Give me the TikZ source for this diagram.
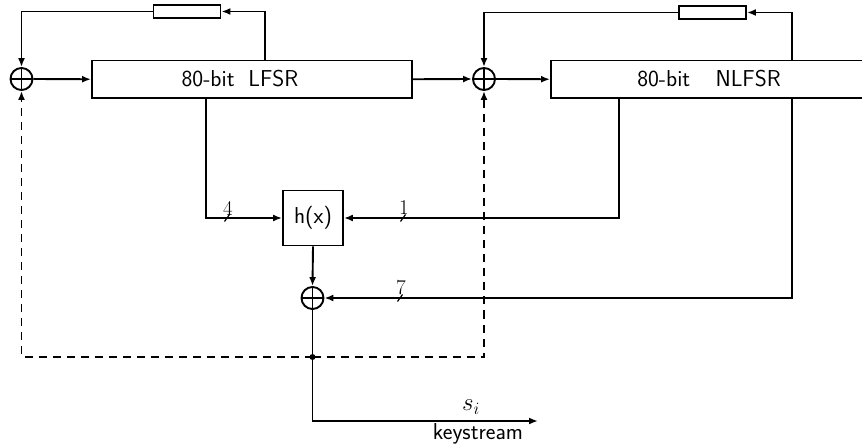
\documentclass[tikz,border=0pt]{standalone}
\usetikzlibrary{arrows.meta}
\begin{document}
\begin{tikzpicture}[x=1pt,y=-1pt,line width=1.9pt,
  arr/.style={-{Latex[length=9pt,width=7pt]}},
  xorgate/.style={circle,draw,line width=1.9pt,minimum size=22pt,inner sep=0pt,
    path picture={\draw[line width=1.9pt] (path picture bounding box.north) -- (path picture bounding box.south)
      (path picture bounding box.west) -- (path picture bounding box.east);}},
  regbox/.style={draw,line width=1.9pt,rectangle,inner sep=0pt},
  tapbox/.style={draw,line width=1.9pt,rectangle,inner sep=0pt,minimum width=67pt,minimum height=12.5pt},
  sftext/.style={font=\fontsize{23}{27}\selectfont\sffamily,inner sep=0pt},
  numtext/.style={font=\fontsize{21}{25}\selectfont,inner sep=0pt},
  dashedline/.style={dash pattern=on 8pt off 6pt}
]
\useasboundingbox (0,0) rectangle (862,446);

% nodes
\node[xorgate] (x1) at (21.5,79) {};
\node[xorgate] (x2) at (484,79) {};
\node[regbox,minimum width=320pt,minimum height=37.5pt] (lfsr) at (252,79.25) {};
\node[sftext] (lfsrtxt) at (240,79) {80-bit\hspace{0.6em}LFSR};
\node[regbox,minimum width=320pt,minimum height=37.5pt] (nlfsr) at (711,79.25) {};
\node[sftext] (nlfsrtxt) at (709,79) {80-bit\hspace{1.1em}NLFSR};
\node[tapbox] (fb1) at (187,11.5) {};
\node[tapbox] (fb2) at (712.5,12.5) {};
\node[regbox,minimum width=60pt,minimum height=55pt,sftext] (hx) at (313,218) {h(x)};
\node[xorgate] (x3) at (312.5,298) {};
\node[circle,fill,inner sep=0pt,minimum size=6pt] (dot) at (312.5,357) {};

\coordinate (c1) at (265,60.5);
\coordinate (c2) at (792,60.5);
\coordinate (c3) at (206,98);
\coordinate (c4) at (619,98);
\coordinate (c5) at (792,98);
\coordinate (out) at (538,421);

% feedback loops
\draw[arr] (c1) |- (fb1.east);
\draw[arr] (fb1.west) -| (x1.north);
\draw[arr] (x1.east) -- (lfsr.west);
\draw[arr] (lfsr.east) -- (x2.west);
\draw[arr] (x2.east) -- (nlfsr.west);
\draw[arr] (c2) |- (fb2.east);
\draw[arr] (fb2.west) -| (x2.north);

% taps to h(x)
\draw[arr] (c3) |- (hx.west);
\draw[arr] (c4) |- (hx.east);
\draw[arr] (hx.south) -- (x3.north);
\draw[arr] (c5) |- (x3.east);

% output
\draw (x3.south) -- (dot.center);
\draw[arr] (dot.center) |- (out);
\draw[arr,dashedline] (dot.center) -| (x1.south);
\draw[arr,dashedline] (dot.center) -| (x2.south);

% bus ticks and widths
\draw[line width=1.2pt] (224.5,221.5) -- (229.5,214.5);
\draw[line width=1.2pt] (400.5,221.5) -- (405.5,214.5);
\draw[line width=1.2pt] (397.5,301.5) -- (402.5,294.5);
\node[numtext] (n4) at (228,208) {4};
\node[numtext] (n1) at (404,208) {1};
\node[numtext] (n7) at (401,288) {7};

\node[font=\fontsize{23}{27}\selectfont,inner sep=0pt] (si) at (471,407) {$s_i$};
\node[sftext] (ks) at (478,434) {keystream};
\end{tikzpicture}
\end{document}
